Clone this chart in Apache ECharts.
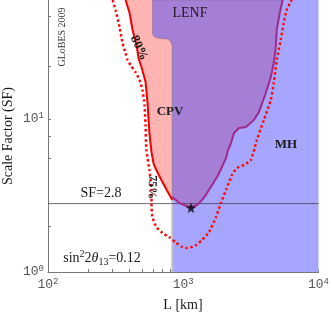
<!DOCTYPE html>
<html><head><meta charset="utf-8">
<script src="https://cdn.jsdelivr.net/npm/echarts@6/dist/echarts.min.js"></script>
<style>html,body{margin:0;padding:0;background:#fff}#c{width:332px;height:314px}</style>
</head><body><div id="c"></div>
<script>
// ---- data ----
const xTickLabels = [100, 1000, 10000];
const xTicks = [100,200,300,400,500,600,700,800,900,1000,2000,3000,4000,5000,6000,7000,8000,9000,10000];
const yTickLabels = [1, 10];
const yTicks = [1, 2, 5.5, 7.7, 10, 22, 47];
const sfMin = 1, sfMax = 60;
const lMin = 100, lMax = 10000;

// CPV 80% (solid red) boundary
const cpv80L  = [374.5, 401, 422, 451, 467, 491, 526, 544, 562, 582, 602, 622, 689, 762, 830];
const cpv80SF = [60, 49.3, 38.2, 30.5, 25.0, 21.9, 17.5, 12.9, 8.10, 6.1, 5.16, 4.78, 3.99, 3.38, 2.96];

// CPV 75% (dotted red) boundary
const cpv75L  = [300.8, 316, 338, 356, 374.5, 387, 408, 443, 475, 499, 517, 526, 534, 562, 582, 582, 592, 633, 701, 788, 888, 984, 1070, 1246, 1380, 1553, 1748, 1902, 2072, 2292, 2494, 2809, 3162, 3500, 3945, 4437, 4667, 4911, 5254, 5530, 5821, 6328];
const cpv75SF = [60, 51.6, 39.9, 31.4, 27.0, 24.3, 22.5, 20.3, 18.0, 15.5, 12.35, 9.14, 6.27, 4.64, 3.44, 2.83, 2.29, 1.97, 1.80, 1.69, 1.55, 1.457, 1.435, 1.50, 1.62, 1.83, 2.29, 2.83, 3.44, 4.31, 4.78, 5.01, 5.40, 7.29, 9.85, 13.3, 17.2, 24.3, 32.8, 42.4, 51.6, 60];

// LENF region: upper-left edge and lower (magenta) boundary
const lenfEdgeL  = [592, 592, 612, 666, 762, 801, 830];
const lenfEdgeSF = [60, 35.9, 34.4, 33.6, 33.3, 32.4, 30.0];
const lenfCurveL  = [830, 934.5, 1052, 1145, 1268, 1380, 1500, 1633, 1778, 1936, 2072, 2143, 2255, 2372, 2582, 2906, 3328, 3623, 4077, 4437, 4667, 4829, 4911, 5166, 5433];
const lenfCurveSF = [3.09, 2.83, 2.70, 2.66, 2.74, 2.96, 3.28, 3.70, 4.18, 4.86, 5.56, 6.27, 6.97, 8.10, 8.74, 8.87, 9.85, 11.1, 14.8, 18.8, 23.2, 29.5, 38.2, 49.3, 60];

// MH region (L range)
const mhL = [830, 10000];

// best point and SF line
const bestL = [1140], bestSF = [2.63];
const sfLine = 2.8;

// ---- build ----
const pair = (a, b) => a.map((v, i) => [v, b[i]]);
const pinkPts = pair(cpv80L, cpv80SF).concat([[mhL[0], sfMax]]);
const mhPts = [[mhL[0], sfMin], [mhL[1], sfMin], [mhL[1], sfMax], [mhL[0], sfMax]];
const lenfPts = pair(lenfEdgeL, lenfEdgeSF).concat(pair(lenfCurveL, lenfCurveSF));

function polySeries(pts, fill, z, stroke) {
  return {
    type: 'custom', z: z, clip: true, silent: true,
    data: [pts[0]],
    renderItem: function (params, api) {
      return { type: 'polygon', shape: { points: pts.map(p => api.coord(p)) },
        style: { fill: fill, stroke: stroke || null, lineWidth: 1 } };
    }
  };
}

const supFmt = v => {
  const e = Math.round(Math.log10(v));
  if (Math.abs(Math.log10(v) - e) > 1e-6) return '';
  return '{b|10}{s|' + e + '}';
};
const labRich = {
  b: { fontFamily: 'Liberation Mono', fontSize: 13, color: '#555', lineHeight: 16 },
  s: { fontFamily: 'Liberation Mono', fontSize: 9, color: '#555', lineHeight: 9, verticalAlign: 'top' }
};

const serif = '"Liberation Serif", "DejaVu Serif", serif';
function txt(x, y, text, size, opts) {
  opts = opts || {};
  return { type: 'text', x: x, y: y, z: 100, rotation: opts.rot || 0,
    style: { text: text, font: (opts.bold ? 'bold ' : '') + size + 'px ' + serif,
      fill: opts.fill || '#1a1a1a', align: 'center', verticalAlign: 'middle', rich: opts.rich } };
}

const chart = echarts.init(document.getElementById('c'), null, { renderer: 'canvas' });
chart.setOption({
  animation: false,
  grid: { left: 48, right: 12, top: 0, bottom: 42, containLabel: false },
  xAxis: {
    type: 'log', logBase: 10, min: lMin, max: lMax,
    axisLine: { show: true, lineStyle: { color: '#777', width: 1 } },
    axisTick: { show: true, inside: true, length: 3, lineStyle: { color: '#777' }, customValues: xTicks },
    axisLabel: { margin: 5, formatter: supFmt, rich: labRich, customValues: xTickLabels },
    splitLine: { show: false }, minorTick: { show: false }
  },
  yAxis: {
    type: 'log', logBase: 10, min: sfMin, max: sfMax,
    axisLine: { show: true, lineStyle: { color: '#777', width: 1 } },
    axisTick: { show: true, inside: true, length: 3, lineStyle: { color: '#777' }, customValues: yTicks },
    axisLabel: { margin: 4, formatter: supFmt, rich: labRich, customValues: yTickLabels },
    splitLine: { show: false }
  },
  series: [
    polySeries(pinkPts, '#ffb4b4', 1),
    polySeries(mhPts, '#a6a6fe', 2),
    { type: 'line', z: 3, silent: true, showSymbol: false, data: [[mhL[0], sfMin], [mhL[0], sfMax]],
      lineStyle: { color: 'rgba(190,190,200,0.9)', width: 2 } },
    polySeries(lenfPts, '#a57fd6', 4, 'rgba(120,90,100,0.35)'),
    { type: 'line', z: 5, silent: true, showSymbol: false, data: [[lMin, sfLine], [lMax, sfLine]],
      lineStyle: { color: 'rgba(60,60,80,0.75)', width: 1 } },
    { type: 'line', z: 6, silent: true, showSymbol: false, data: pair(lenfCurveL, lenfCurveSF),
      lineStyle: { color: '#a02a8c', width: 2 } },
    { type: 'line', z: 7, silent: true, showSymbol: false, data: pair(cpv80L, cpv80SF),
      lineStyle: { color: '#f00000', width: 2 } },
    { type: 'line', z: 8, silent: true, showSymbol: false, smooth: 0.2, data: pair(cpv75L, cpv75SF),
      lineStyle: { color: '#ff0a0a', width: 2.5, type: [2.5, 2.5], cap: 'butt' } },
    { type: 'scatter', z: 9, silent: true, data: pair(bestL, bestSF),
      symbol: 'path://M50,0 L61,35 L98,35 L68,57 L79,91 L50,70 L21,91 L32,57 L2,35 L39,35 Z',
      symbolSize: 11, itemStyle: { color: '#000' } }
  ],
  graphic: [
    txt(8, 136, 'Scale Factor (SF)', 14, { rot: Math.PI / 2 }),
    txt(183, 305, 'L [km]', 14),
    txt(190, 13, 'LENF', 14),
    txt(170, 112, 'CPV', 13, { bold: true }),
    txt(286, 145, 'MH', 13, { bold: true }),
    txt(101, 193, 'SF=2.8', 14),
    txt(62, 37, 'GLoBES 2009', 10, { rot: Math.PI / 2, fill: '#333' }),
    txt(139, 48, '80%', 13, { rot: -1.15, bold: true }),
    txt(152, 187, '75%', 12, { rot: -1.6, bold: true }),
    txt(102, 258, '{n|sin}{p|2}{n|2}{t|θ}{d|13}{n|=0.12}', 14, { rich: {
      n: { fontFamily: serif, fontSize: 14, lineHeight: 18, fill: '#1a1a1a' },
      t: { fontFamily: serif, fontSize: 14, fontStyle: 'italic', lineHeight: 18, fill: '#1a1a1a' },
      p: { fontFamily: serif, fontSize: 10, lineHeight: 10, verticalAlign: 'top', fill: '#1a1a1a' },
      d: { fontFamily: serif, fontSize: 10, lineHeight: 10, verticalAlign: 'bottom', fill: '#1a1a1a' }
    } })
  ]
});
</script>
</body></html>
